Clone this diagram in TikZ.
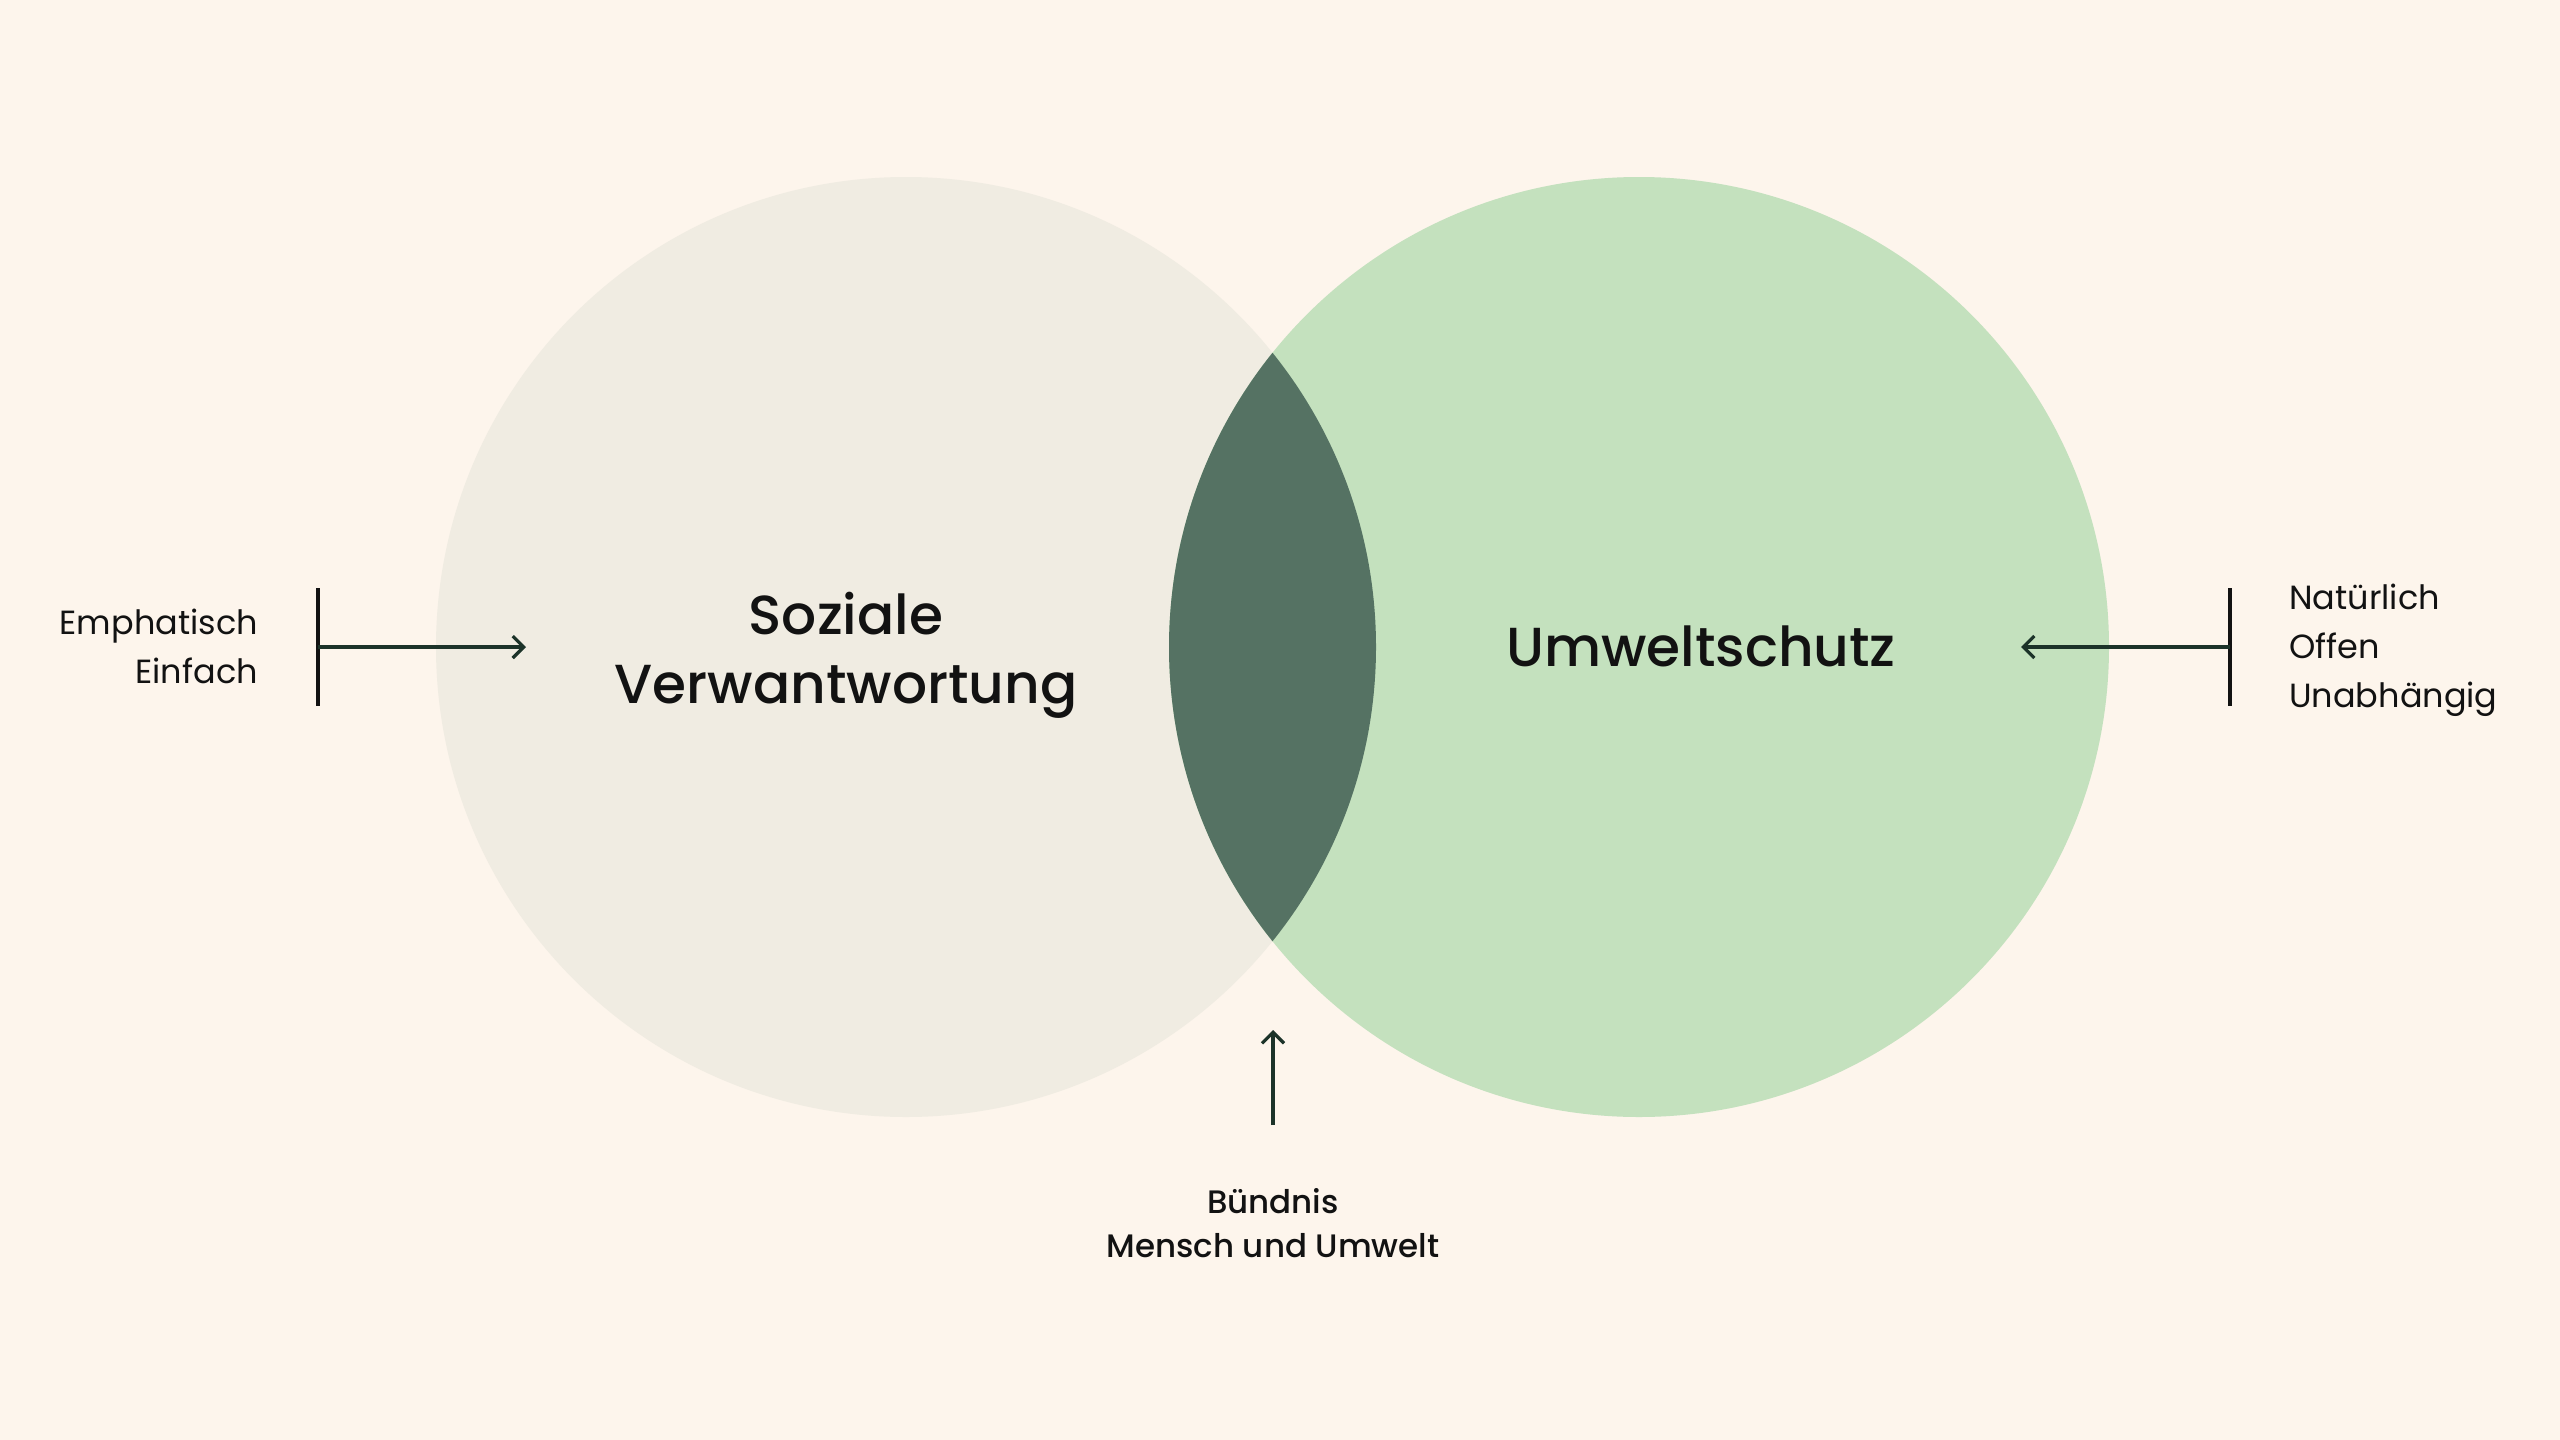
\documentclass[tikz,border=0pt]{standalone}
\usepackage{fontspec}
\setmainfont{Poppins}
\newfontfamily\pmed{Poppins Medium}
\usetikzlibrary{arrows.meta}
\definecolor{bg}{HTML}{FDF5EC}
\definecolor{leftc}{HTML}{F0ECE2}
\definecolor{rightc}{HTML}{C4E1BE}
\definecolor{lensc}{HTML}{557263}
\definecolor{ink}{HTML}{121212}
\definecolor{arrowc}{HTML}{1C3329}
\tikzset{
  bar/.style={draw=ink, line width=3.2pt},
  pointer/.style={draw=arrowc, line width=3.2pt, -{Straight Barb[length=11pt,width=22pt,line width=3.2pt]}},
  small/.style={inner sep=0pt, text=ink, font=\fontsize{33.5}{49}\selectfont},
  medlabel/.style={inner sep=0pt, text=ink, font=\pmed\fontsize{32.5}{44}\selectfont},
  title/.style={inner sep=0pt, text=ink, font=\pmed\fontsize{55}{69}\selectfont},
}
\begin{document}
\begin{tikzpicture}[x=1pt,y=-1pt]
\fill[bg] (0,0) rectangle (2560,1440);
\useasboundingbox (0,0) rectangle (2560,1440);
% circles
\node[circle, fill=leftc, minimum size=940pt, inner sep=0pt] (L) at (906,647) {};
\node[circle, fill=rightc, minimum size=940pt, inner sep=0pt] (R) at (1639,647) {};
\begin{scope}
  \clip (L.center) circle (470);
  \fill[lensc] (R.center) circle (470);
\end{scope}
% titles
\node[title, anchor=base] (soz) at (846,634) {\begin{tabular}[t]{@{}c@{}}Soziale\\Verwantwortung\end{tabular}};
\node[title, anchor=base] (umw) at (1701,666) {Umweltschutz};
% left label
\node[small, anchor=base east] (emph) at (258,634) {\begin{tabular}[t]{@{}r@{}}Emphatisch\\Einfach\end{tabular}};
\coordinate (lt) at (318,588);
\coordinate (lb) at (318,706);
\coordinate (lm) at (318,647);
\coordinate (la) at (526,647);
\draw[bar] (lt) -- (lb);
\draw[pointer] (lm) -- (la);
% right label
\node[small, anchor=base west] (nat) at (2289,609) {\begin{tabular}[t]{@{}l@{}}Natürlich\\Offen\\Unabhängig\end{tabular}};
\coordinate (rt) at (2230,588);
\coordinate (rb) at (2230,706);
\coordinate (rm) at (2230,647);
\coordinate (ra) at (2021,647);
\draw[bar] (rt) -- (rb);
\draw[pointer] (rm) -- (ra);
% bottom label
\node[medlabel, anchor=base] (bund) at (1273,1213) {\begin{tabular}[t]{@{}c@{}}Bündnis\\Mensch und Umwelt\end{tabular}};
\coordinate (bs) at (1273,1125);
\coordinate (be) at (1273,1030);
\draw[pointer] (bs) -- (be);
\end{tikzpicture}
\end{document}
